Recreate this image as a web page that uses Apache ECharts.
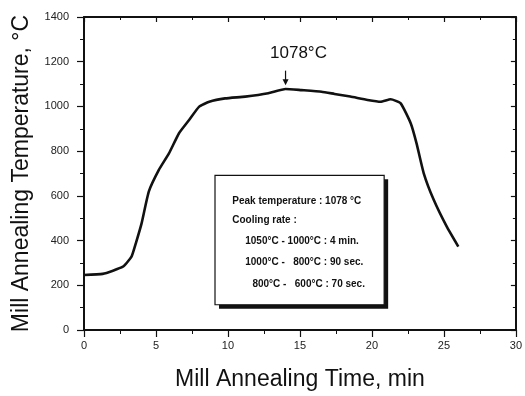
<!DOCTYPE html>
<html><head><meta charset="utf-8">
<script src="https://cdn.jsdelivr.net/npm/echarts@6/dist/echarts.min.js"></script>
<style>html,body{margin:0;padding:0;background:#fff}#c{width:525px;height:396px}</style>
</head><body><div id="c"></div>
<script>
const timeMin = [0, 1.3, 2.7, 3.3, 3.6, 4.0, 4.5, 5.2, 5.9, 6.6, 7.3, 8.0, 8.7, 9.8, 11.2, 12.8, 14.0, 15.1, 16.5, 17.4, 18.5, 19.7, 20.6, 21.3, 22.0, 22.7, 23.1, 23.6, 24.3, 25.2, 26.0];
const tempC = [246, 251, 283, 328, 388, 477, 619, 716, 790, 880, 939, 999, 1021, 1036, 1044, 1059, 1078, 1073, 1066, 1056, 1044, 1029, 1021, 1032, 1014, 924, 835, 701, 581, 462, 373];
const peakTime = 14.0, peakTemp = 1078;
const peakLabel = '1078°C';
const boxLines = ['Peak temperature : 1078 °C', 'Cooling rate :', '1050°C - 1000°C : 4 min.', '1000°C -   800°C : 90 sec.', '800°C -   600°C : 70 sec.'];
const FONT = '"Liberation Sans", Arial, sans-serif';

const chart = echarts.init(document.getElementById('c'));
const lineC = {color: '#111', width: 2};
function mk(extra, inside) {
  return Object.assign({
    type: 'value',
    axisLine: {show: true, onZero: false, lineStyle: lineC},
    axisTick: {inside: inside, length: inside ? 5 : 7, lineStyle: {color: '#111', width: 1.2}},
    minorTick: {show: true, splitNumber: 2, length: inside ? 3 : 4, lineStyle: {color: '#111'}},
    splitLine: {show: false}
  }, extra);
}
chart.setOption({
  animation: false,
  grid: {left: 84, right: 5, top: 17, bottom: 66},
  xAxis: [
    mk({min: 0, max: 30, interval: 5, position: 'bottom',
      name: 'Mill Annealing Time, min', nameLocation: 'middle', nameGap: 38,
      nameTextStyle: {fontFamily: FONT, fontSize: 23, color: '#111'},
      axisLabel: {fontFamily: FONT, fontSize: 11, color: '#222', margin: 10, formatter: v => String(v)}}, false),
    mk({min: 0, max: 30, interval: 5, position: 'top', axisLabel: {show: false}}, true)
  ],
  yAxis: [
    mk({min: 0, max: 1400, interval: 200, position: 'left',
      name: 'Mill Annealing Temperature, °C', nameLocation: 'middle', nameGap: 48, nameRotate: 90,
      nameTextStyle: {fontFamily: FONT, fontSize: 23, color: '#111'},
      axisLabel: {fontFamily: FONT, fontSize: 11, color: '#222', margin: 15, formatter: v => String(v)}}, false),
    mk({min: 0, max: 1400, interval: 200, position: 'right', axisLabel: {show: false}}, true)
  ],
  series: [{
    type: 'line', xAxisIndex: 0, yAxisIndex: 0, showSymbol: false, smooth: 0.15,
    lineStyle: {color: '#111', width: 2.6},
    data: timeMin.map((t, i) => [t, tempC[i]])
  }]
});

function px(x, y) { return chart.convertToPixel({gridIndex: 0}, [x, y]); }
const tl = px(9.1, 692), br = px(20.85, 113);
const bw = br[0] - tl[0], bh = br[1] - tl[1];
const lblPos = px(14.9, 1237);
const arrTop = px(peakTime, 1160), arrBot = px(peakTime, 1095);
const lineYs = [577, 492, 398, 304, 206];
const lineXs = [10.3, 10.3, 11.2, 11.2, 11.7];
const textEls = boxLines.map((s, i) => {
  const p = px(lineXs[i], lineYs[i]);
  return {type: 'text', x: p[0], y: p[1], style: {text: s, font: 'bold 10px ' + FONT, fill: '#111', textVerticalAlign: 'middle'}};
});
chart.setOption({graphic: [
  {type: 'rect', shape: {x: tl[0] + 4, y: tl[1] + 4, width: bw, height: bh}, style: {fill: '#111'}},
  {type: 'rect', shape: {x: tl[0], y: tl[1], width: bw, height: bh}, style: {fill: '#fff', stroke: '#111', lineWidth: 1.2}},
  ...textEls,
  {type: 'text', x: lblPos[0], y: lblPos[1], style: {text: peakLabel, font: '17px ' + FONT, fill: '#111', textAlign: 'center', textVerticalAlign: 'middle'}},
  {type: 'line', shape: {x1: arrTop[0], y1: arrTop[1], x2: arrBot[0], y2: arrBot[1] - 3}, style: {stroke: '#111', lineWidth: 1.2}},
  {type: 'polygon', shape: {points: [[arrBot[0] - 3, arrBot[1] - 6], [arrBot[0] + 3, arrBot[1] - 6], [arrBot[0], arrBot[1]]]}, style: {fill: '#111'}}
]});
</script></body></html>
